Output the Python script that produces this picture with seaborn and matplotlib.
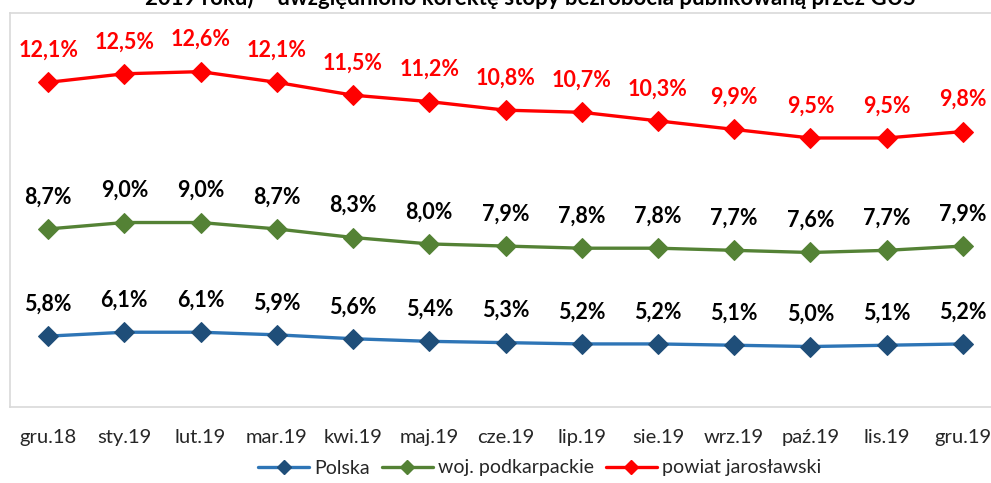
import matplotlib
matplotlib.use("Agg")
import matplotlib.pyplot as plt
import seaborn as sns
import numpy as np
from matplotlib.lines import Line2D

months = ["gru.18", "sty.19", "lut.19", "mar.19", "kwi.19", "maj.19", "cze.19",
          "lip.19", "sie.19", "wrz.19", "paź.19", "lis.19", "gru.19"]
polska = [5.8, 6.1, 6.1, 5.9, 5.6, 5.4, 5.3, 5.2, 5.2, 5.1, 5.0, 5.1, 5.2]
podkarpackie = [8.7, 9.0, 9.0, 8.7, 8.3, 8.0, 7.9, 7.8, 7.8, 7.7, 7.6, 7.7, 7.9]
jaroslawski = [12.1, 12.5, 12.6, 12.1, 11.5, 11.2, 10.8, 10.7, 10.3, 9.9, 9.5, 9.5, 9.8]
series_names = ["Polska", "woj. podkarpackie", "powiat jarosławski"]
title_text = "2019 roku) – uwzględniono korektę stopy bezrobocia publikowaną przez GUS"

sns.set_theme(style="white")
plt.rcParams['font.family'] = ['Lato', 'DejaVu Sans']

W, H = 991, 483
fig = plt.figure(figsize=(W / 100, H / 100), dpi=100)
left_px, right_px, top_px, bottom_px = 10, 1001, 13, 407
ax = fig.add_axes([left_px / W, 1 - bottom_px / H, (right_px - left_px) / W, (bottom_px - top_px) / H])

x = np.arange(len(months))

specs = [
    (polska, "#2E75B6", "#1F4E79", "#000000", (0.35, 30.65)),
    (podkarpackie, "#548235", "#548235", "#000000", (0.38, 18.79)),
    (jaroslawski, "#FF0000", "#FF0000", "#FF0000", (-3.07, 15.34)),
]

axes = [ax, ax.twinx(), ax.twinx()]
handles = []
for (vals, lc, mc, tc, ylim), a, name in zip(specs, axes, series_names):
    sns.lineplot(x=x, y=vals, ax=a, color=lc, linewidth=2.4, marker="D",
                 markersize=10, markerfacecolor=mc, markeredgecolor=mc, legend=False)
    a.set_ylim(*ylim)
    a.set_xlim(-0.5, len(months) - 0.5)
    a.set_yticks([])
    a.set_ylabel("")
    for xi, v in zip(x, vals):
        a.annotate(f"{v:.1f}%".replace(".", ","), (xi, v), xytext=(0, 23),
                   textcoords="offset points", ha="center", va="center",
                   fontsize=15.5, fontweight="bold", color=tc)
    handles.append(Line2D([], [], color=lc, linewidth=2.4, marker="D", markersize=7,
                          markerfacecolor=mc, markeredgecolor=mc, label=name))
    for s in a.spines.values():
        s.set_visible(False)

ax.spines["left"].set_visible(True)
ax.spines["bottom"].set_visible(True)
ax.spines["top"].set_visible(True)
for k in ["left", "bottom", "top"]:
    ax.spines[k].set_color("#d9d9d9")
    ax.spines[k].set_linewidth(1.2)

ax.set_xticks(x)
ax.set_xticklabels(months, fontsize=14.5, color="#262626")
ax.set_xticks(np.arange(-0.5, len(months)), minor=True)
ax.tick_params(axis="x", which="major", length=0, pad=16)
ax.tick_params(axis="x", which="minor", length=6, color="#d9d9d9", width=1.2, direction="out")

fig.legend(handles=handles, loc="center", bbox_to_anchor=(540 / W, 1 - 468 / H),
           ncol=3, frameon=False, fontsize=14, handlelength=2.6, columnspacing=0.6,
           handletextpad=0.3)

fig.text(530 / W, 1 - 5 / H, title_text, ha="center", va="baseline",
         fontsize=16, fontweight="bold", color="#000000")

fig.savefig("out.png", dpi=100)
